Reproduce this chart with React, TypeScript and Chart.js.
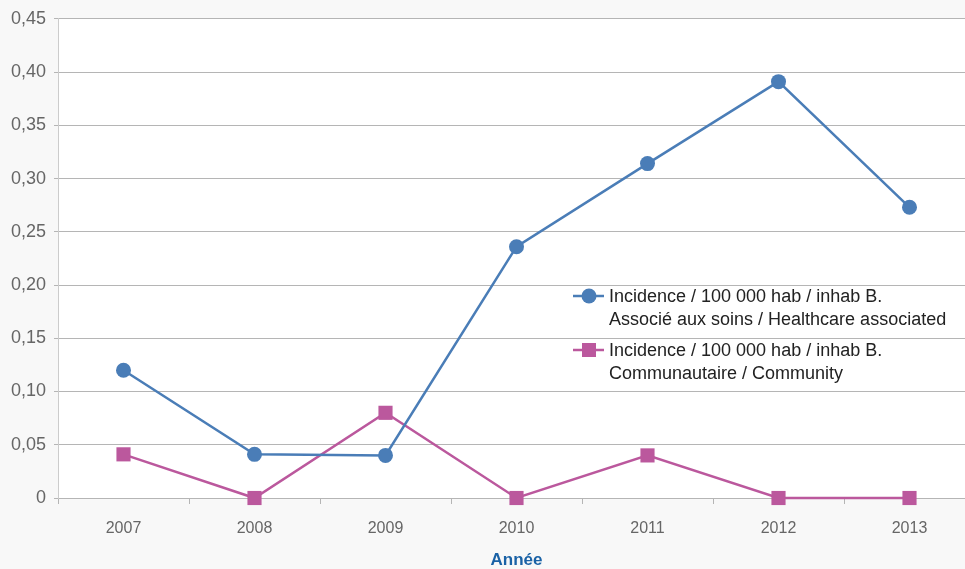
import React, { useEffect, useRef } from "react";
import { Chart, registerables } from "chart.js";

Chart.register(...registerables);

const years = ["2007", "2008", "2009", "2010", "2011", "2012", "2013"];
const healthcareAssociated = [0.12, 0.041, 0.04, 0.236, 0.314, 0.391, 0.273];
const community = [0.041, 0, 0.08, 0, 0.04, 0, 0];
const healthcareLabel = ["Incidence / 100 000 hab / inhab B.", "Associé aux soins / Healthcare associated"];
const communityLabel = ["Incidence / 100 000 hab / inhab B.", "Communautaire / Community"];
const xTitle = "Année";

const BLUE = "#4a7db7";
const PINK = "#bb589d";
const FONT = "'Liberation Sans', Arial, sans-serif";

const bgPlugin = {
  id: "bgPlugin",
  beforeDraw(chart: any) {
    const { ctx, chartArea } = chart;
    ctx.save();
    ctx.fillStyle = "#f8f8f8";
    ctx.fillRect(0, 0, chart.width, chart.height);
    ctx.fillStyle = "#ffffff";
    ctx.fillRect(chartArea.left, chartArea.top, chartArea.right - chartArea.left, chartArea.bottom - chartArea.top);
    ctx.restore();
  },
};

const legendPlugin = {
  id: "insideLegend",
  afterDraw(chart: any, _args: any, opts: any) {
    const { ctx } = chart;
    ctx.save();
    ctx.font = `18px ${FONT}`;
    ctx.textBaseline = "middle";
    ctx.textAlign = "left";
    chart.data.datasets.forEach((ds: any, i: number) => {
      const y = opts.y + i * opts.rowGap;
      ctx.strokeStyle = ds.borderColor;
      ctx.lineWidth = 2.5;
      ctx.beginPath();
      ctx.moveTo(opts.x, y);
      ctx.lineTo(opts.x + 31, y);
      ctx.stroke();
      ctx.fillStyle = ds.backgroundColor;
      const cx = opts.x + 16;
      if (ds.pointStyle === "rect") {
        ctx.fillRect(cx - 7, y - 7, 14, 14);
      } else {
        ctx.beginPath();
        ctx.arc(cx, y, 7.5, 0, Math.PI * 2);
        ctx.fill();
      }
      ctx.fillStyle = "#222222";
      (ds.legendLines as string[]).forEach((line, j) => {
        ctx.fillText(line, opts.x + 36, y + 1 + j * opts.lineGap);
      });
    });
    ctx.restore();
  },
};

export default function App() {
  const ref = useRef<HTMLCanvasElement>(null);
  useEffect(() => {
    if (!ref.current) return;
    const chart = new Chart(ref.current, {
      type: "line",
      data: {
        labels: years,
        datasets: [
          {
            label: healthcareLabel.join(" "),
            legendLines: healthcareLabel,
            data: healthcareAssociated,
            borderColor: BLUE,
            backgroundColor: BLUE,
            borderWidth: 2.5,
            pointStyle: "circle",
            pointRadius: 7.5,
            pointBorderWidth: 0,
            tension: 0,
            clip: false,
          } as any,
          {
            label: communityLabel.join(" "),
            legendLines: communityLabel,
            data: community,
            borderColor: PINK,
            backgroundColor: PINK,
            borderWidth: 2.5,
            pointStyle: "rect",
            pointRadius: 10,
            pointBorderWidth: 0,
            tension: 0,
            clip: false,
          } as any,
        ],
      },
      options: {
        animation: false,
        responsive: false,
        events: [],
        layout: { autoPadding: false, padding: { top: 18, left: 0, right: 0, bottom: 0 } },
        plugins: {
          legend: { display: false },
          tooltip: { enabled: false },
          insideLegend: { x: 573, y: 296, rowGap: 54, lineGap: 23 },
        } as any,
        scales: {
          x: {
            offset: true,
            grid: {
              offset: true,
              drawOnChartArea: false,
              drawTicks: true,
              tickLength: 6,
              color: "#b5b5b5",
            },
            border: { display: true, color: "#b5b5b5", width: 1 },
            ticks: {
              color: "#666666",
              font: { family: FONT, size: 16 },
              padding: 15,
              maxRotation: 0,
            },
            title: {
              display: true,
              text: xTitle,
              color: "#1a62a6",
              font: { family: FONT, size: 17, weight: "bold" },
              padding: { top: 0, bottom: -2 },
            },
            afterFit(scale: any) {
              scale.height = 71;
              scale.paddingLeft = 0;
              scale.paddingRight = 0;
            },
          },
          y: {
            min: 0,
            max: 0.45,
            ticks: {
              stepSize: 0.05,
              color: "#666666",
              font: { family: FONT, size: 18 },
              padding: 8,
              callback: (v: any) => (Number(v) === 0 ? "0" : Number(v).toFixed(2).replace(".", ",")),
            },
            grid: {
              color: "#b5b5b5",
              tickLength: 4,
              drawTicks: true,
            },
            border: { display: true, color: "#cccccc", width: 1 },
            afterFit(scale: any) {
              scale.width = 58;
            },
          },
        },
      },
      plugins: [bgPlugin, legendPlugin],
    });
    return () => chart.destroy();
  }, []);
  return (
    <div
      style={{
        position: "fixed",
        left: 0,
        top: 0,
        width: 975,
        height: 569,
        overflow: "hidden",
        background: "#f8f8f8",
      }}
    >
      <canvas ref={ref} width={975} height={569} style={{ display: "block", width: 975, height: 569 }} />
    </div>
  );
}
